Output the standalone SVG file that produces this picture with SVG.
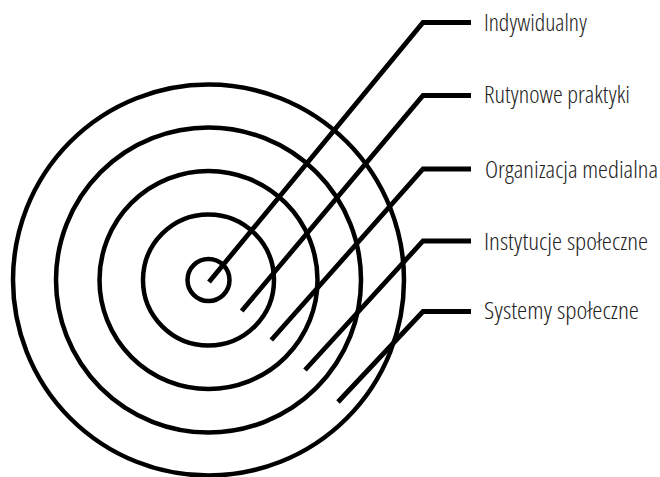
<svg xmlns="http://www.w3.org/2000/svg" width="660" height="477" viewBox="0 0 660 477">
<style>
.ring{fill:none;stroke:#000;stroke-width:4.5}
.conn{fill:none;stroke:#000;stroke-width:4.8;stroke-linejoin:miter;stroke-linecap:butt}
.lbl{font-family:"Open Sans","Liberation Sans",Arial,sans-serif;font-stretch:condensed;font-weight:300;font-size:24px;fill:#222}
</style>
<rect width="660" height="477" fill="#fff"/>
<g id="rings">
<circle id="ring-systemy" class="ring" cx="208.5" cy="280" r="195.5"/>
<circle id="ring-instytucje" class="ring" cx="208.5" cy="280" r="152.5"/>
<circle id="ring-organizacja" class="ring" cx="208.5" cy="280" r="109"/>
<circle id="ring-rutynowe" class="ring" cx="208.5" cy="280" r="65.5"/>
<circle id="ring-indywidualny" class="ring" cx="208.5" cy="280" r="21"/>
</g>
<g id="connectors">
<polyline class="conn" points="209,282 423,22.5 471,22.5"/>
<polyline class="conn" points="241.7,311 423,95.5 471,95.5"/>
<polyline class="conn" points="271.3,340 423,169 471,169"/>
<polyline class="conn" points="305,370 423,241 471,241"/>
<polyline class="conn" points="338,402 423,311.5 471,311.5"/>
</g>
<g id="label-indywidualny"><text class="lbl" x="484" y="30.5" textLength="103" lengthAdjust="spacingAndGlyphs">Indywidualny</text></g>
<g id="label-rutynowe"><text class="lbl" x="484" y="103" textLength="146" lengthAdjust="spacingAndGlyphs">Rutynowe praktyki</text></g>
<g id="label-organizacja"><text class="lbl" x="485" y="177.5" textLength="173" lengthAdjust="spacingAndGlyphs">Organizacja medialna</text></g>
<g id="label-instytucje"><text class="lbl" x="484" y="249.5" textLength="164" lengthAdjust="spacingAndGlyphs">Instytucje społeczne</text></g>
<g id="label-systemy"><text class="lbl" x="484" y="319" textLength="155" lengthAdjust="spacingAndGlyphs">Systemy społeczne</text></g>
</svg>
